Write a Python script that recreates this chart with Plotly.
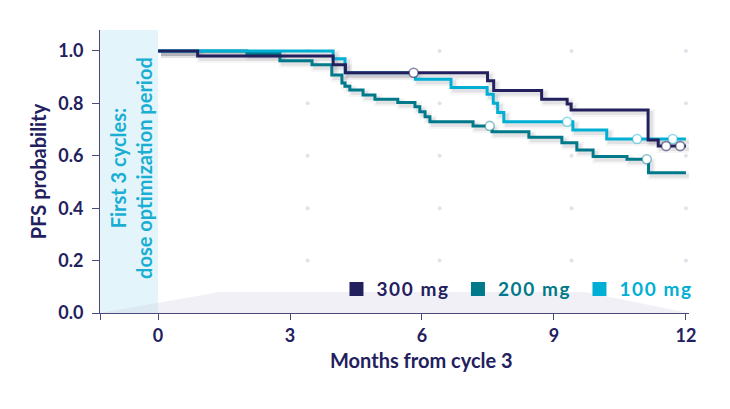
import plotly.graph_objects as go

# Kaplan-Meier style PFS curves
t_300 = [0, 0.9, 3.98, 4.26, 7.49, 7.63, 8.72, 9.30, 9.39, 11.14, 11.37, 12.0]
s_300 = [1.0, 0.981, 0.947, 0.917, 0.886, 0.849, 0.816, 0.798, 0.775, 0.66, 0.637, 0.637]
cens_t_300 = [5.81, 11.55, 11.87]
cens_s_300 = [0.917, 0.637, 0.637]

t_200 = [0, 2.02, 2.77, 3.50, 3.95, 4.18, 4.25, 4.36, 4.66, 4.93, 5.45, 5.84, 5.95,
         6.07, 6.18, 7.16, 7.59, 8.43, 9.18, 9.52, 9.89, 10.66, 11.15, 12.0]
s_200 = [1.0, 0.99, 0.963, 0.947, 0.908, 0.878, 0.865, 0.851, 0.832, 0.816, 0.803, 0.787, 0.768,
         0.749, 0.73, 0.714, 0.692, 0.671, 0.65, 0.622, 0.597, 0.587, 0.535, 0.535]
cens_t_200 = [7.54, 11.11]
cens_s_200 = [0.714, 0.587]

t_100 = [0, 3.98, 4.25, 5.85, 6.66, 7.48, 7.62, 7.72, 7.86, 9.43, 10.2, 12.0]
s_100 = [1.0, 0.97, 0.917, 0.892, 0.861, 0.835, 0.80, 0.765, 0.73, 0.698, 0.664, 0.664]
cens_t_100 = [9.30, 10.89, 11.70]
cens_s_100 = [0.73, 0.664, 0.664]

dot_x = [3.4, 6.4, 9.4, 12.0]
dot_y = [0.2, 0.4, 0.6, 0.8, 1.0]

x_ticks = [0, 3, 6, 9, 12]
y_ticks = [0.0, 0.2, 0.4, 0.6, 0.8, 1.0]

NAVY = "#23205e"
TEAL = "#00798a"
CYAN = "#00afd3"
FONT = "Lato"

series = [
    ("300 mg", t_300, s_300, cens_t_300, cens_s_300, NAVY, "rgba(35,32,94,0.55)"),
    ("200 mg", t_200, s_200, cens_t_200, cens_s_200, TEAL, "rgba(0,121,138,0.45)"),
    ("100 mg", t_100, s_100, cens_t_100, cens_s_100, CYAN, "rgba(0,175,211,0.45)"),
]

fig = go.Figure()

# soft drop shadow: same curves on a hidden, slightly shifted axis pair
for name, t, s, ct, cs, col, ring in series:
    fig.add_trace(go.Scatter(x=t, y=s, mode="lines", line=dict(shape="hv", width=8, color="rgba(60,60,80,0.05)"),
                             xaxis="x", yaxis="y", showlegend=False, hoverinfo="skip"))
    fig.add_trace(go.Scatter(x=t, y=s, mode="lines", line=dict(shape="hv", width=4, color="rgba(60,60,80,0.10)"),
                             xaxis="x", yaxis="y", showlegend=False, hoverinfo="skip"))

# background dot grid
gx = [x for x in dot_x for _ in dot_y]
gy = [y for _ in dot_x for y in dot_y]
fig.add_trace(go.Scatter(x=gx, y=gy, mode="markers", marker=dict(size=4, color="#e2e2ec"),
                         xaxis="x2", yaxis="y2", showlegend=False, hoverinfo="skip"))

# curves (drawn 200, 100, 300 so that navy sits on top like the reference)
for idx in [1, 2, 0]:
    name, t, s, ct, cs, col, ring = series[idx]
    fig.add_trace(go.Scatter(x=t, y=s, mode="lines", line=dict(shape="hv", width=3, color=col),
                             xaxis="x2", yaxis="y2", showlegend=False, name=name))
for idx in [1, 2, 0]:
    name, t, s, ct, cs, col, ring = series[idx]
    fig.add_trace(go.Scatter(x=ct, y=cs, mode="markers",
                             marker=dict(size=9, color="white", line=dict(width=1.6, color=ring)),
                             xaxis="x2", yaxis="y2", showlegend=False, hoverinfo="skip"))

# legend entries as squares with coloured, slightly spaced text
for name, t, s, ct, cs, col, ring in series:
    fig.add_trace(go.Scatter(x=[None], y=[None], mode="markers",
                             marker=dict(symbol="square", size=14, color=col),
                             name=f"<span style='color:{col};letter-spacing:1.6px'>{name}</span>",
                             xaxis="x2", yaxis="y2", showlegend=True))

# the page body has an 8px margin, so the figure is 8px smaller than the window
W, H = 722, 401
dx = 3 / 592
dy = 3 / 286
xr = [-1.32, 12.07]
yr = [0, 1.08]
tick_font = dict(family=FONT, size=18, color=NAVY, weight="bold")
title_font = dict(family=FONT, size=20, color=NAVY, weight="bold")

fig.update_layout(
    width=W, height=H,
    margin=dict(l=92, r=38, t=22, b=93),
    paper_bgcolor="white", plot_bgcolor="rgba(0,0,0,0)",
    font=dict(family=FONT, color=NAVY, size=18),
    xaxis=dict(domain=[dx, 1], range=xr, visible=False, fixedrange=True),
    yaxis=dict(domain=[0, 1 - dy], range=yr, visible=False, fixedrange=True),
    xaxis2=dict(domain=[0, 1 - dx], range=xr, anchor="y2", automargin=False,
                tickvals=[xr[0]] + x_ticks, ticktext=[""] + [str(v) for v in x_ticks],
                ticks="outside", ticklen=6, tickwidth=1, tickcolor="#4a4978",
                showline=True, linecolor="#4a4978", linewidth=1, showgrid=False, zeroline=False,
                tickfont=tick_font),
    yaxis2=dict(domain=[dy, 1], range=yr, anchor="x2", automargin=False,
                tickvals=y_ticks, ticktext=[f"{v:.1f}" for v in y_ticks],
                ticks="outside", ticklen=7, tickwidth=1, tickcolor="#4a4978",
                ticklabelstandoff=5,
                showline=True, linecolor="#4a4978", linewidth=1, showgrid=False, zeroline=False,
                tickfont=tick_font,
                title=dict(text="PFS probability", font=title_font, standoff=6)),
    legend=dict(orientation="h", x=1.016, xanchor="right", y=0.094, yanchor="middle",
                bgcolor="rgba(0,0,0,0)", font=dict(family=FONT, size=19, weight="bold"),
                entrywidth=76.5, entrywidthmode="pixels", itemclick=False, itemdoubleclick=False),
    shapes=[
        dict(type="rect", xref="x2", yref="y2", x0=xr[0], x1=0, y0=0, y1=yr[1],
             fillcolor="#e3f5fa", line=dict(width=0), layer="below"),
        dict(type="path", xref="x2", yref="y2", path="M -1.32,0 L 1.4,0.08 L 9.7,0.08 L 12.07,0 Z",
             fillcolor="rgba(200,200,222,0.28)", line=dict(width=0), layer="below"),
    ],
    annotations=[
        dict(xref="x2", yref="y2", x=-0.63, y=0.555, showarrow=False, textangle=-90,
             text="First 3 cycles:<br>dose optimization period",
             font=dict(family=FONT, size=20, color="#1aaed3", weight="bold")),
        # x-axis title, centred on the 0-12 month span like the reference
        dict(xref="x2", yref="paper", x=6, y=-0.154, yanchor="middle", showarrow=False,
             text="Months from cycle 3", font=title_font),
    ],
)

fig.write_html("out.html")
